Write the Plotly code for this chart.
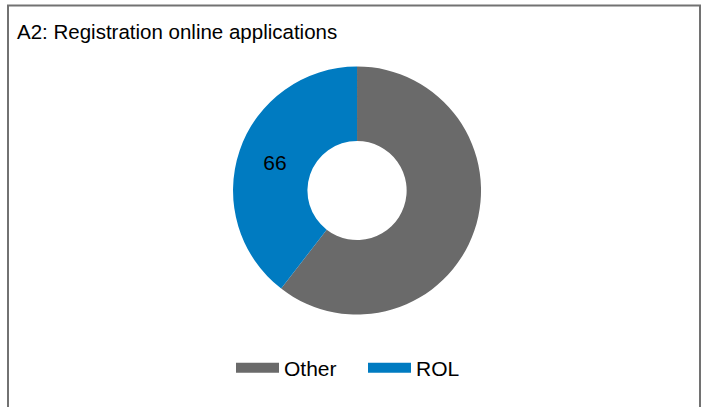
import plotly.graph_objects as go

labels = ["Other", "ROL"]
values = [101, 66]
shown_text = ["", "66"]
colors = ["#6a6a6a", "#007bc1"]

W, H = 707, 407
FONT = "Liberation Sans, Arial, sans-serif"

fig = go.Figure()

fig.add_trace(go.Pie(
    labels=labels,
    values=values,
    text=shown_text,
    texttemplate="%{text}",
    textposition="inside",
    insidetextorientation="horizontal",
    textfont=dict(family=FONT, size=21, color="#000000"),
    hole=0.4,
    sort=False,
    direction="clockwise",
    rotation=0,
    marker=dict(colors=colors, line=dict(width=0)),
    domain=dict(x=[0.305, 0.705], y=[92.5 / H, 340.5 / H]),
    hoverinfo="label+value",
    showlegend=False,
))

# legend entries (wide swatches like the reference)
for lab, col in zip(labels, colors):
    fig.add_trace(go.Scatter(
        x=[None], y=[None], mode="lines", name=lab,
        line=dict(color=col, width=19),
        hoverinfo="skip",
    ))

fig.update_layout(
    width=W, height=H,
    margin=dict(l=0, r=0, t=0, b=0),
    paper_bgcolor="#ffffff",
    plot_bgcolor="#ffffff",
    font=dict(family=FONT, color="#000000"),
    xaxis=dict(visible=False, fixedrange=True),
    yaxis=dict(visible=False, fixedrange=True),
    title=dict(
        text="A2: Registration online applications",
        x=17 / W, xanchor="left", xref="paper",
        y=1 - 32 / H, yanchor="middle", yref="paper",
        font=dict(size=20.5, color="#000000"),
    ),
    showlegend=True,
    legend=dict(
        orientation="h",
        x=231 / W, xanchor="left",
        y=1 - 368 / H, yanchor="middle",
        font=dict(size=21, color="#000000"),
        traceorder="normal",
        itemwidth=43,
        entrywidth=74,
        bgcolor="rgba(0,0,0,0)",
    ),
    shapes=[dict(
        type="rect", xref="paper", yref="paper",
        x0=8 / W, x1=700 / W, y0=-0.05, y1=1 - 5.5 / H,
        line=dict(color="#727272", width=2),
        fillcolor="rgba(0,0,0,0)",
        layer="above",
    )],
)

fig.write_html(
    "out.html",
    config={"displayModeBar": False},
    post_script="document.body.style.margin='0';document.body.style.overflow='hidden';",
)
